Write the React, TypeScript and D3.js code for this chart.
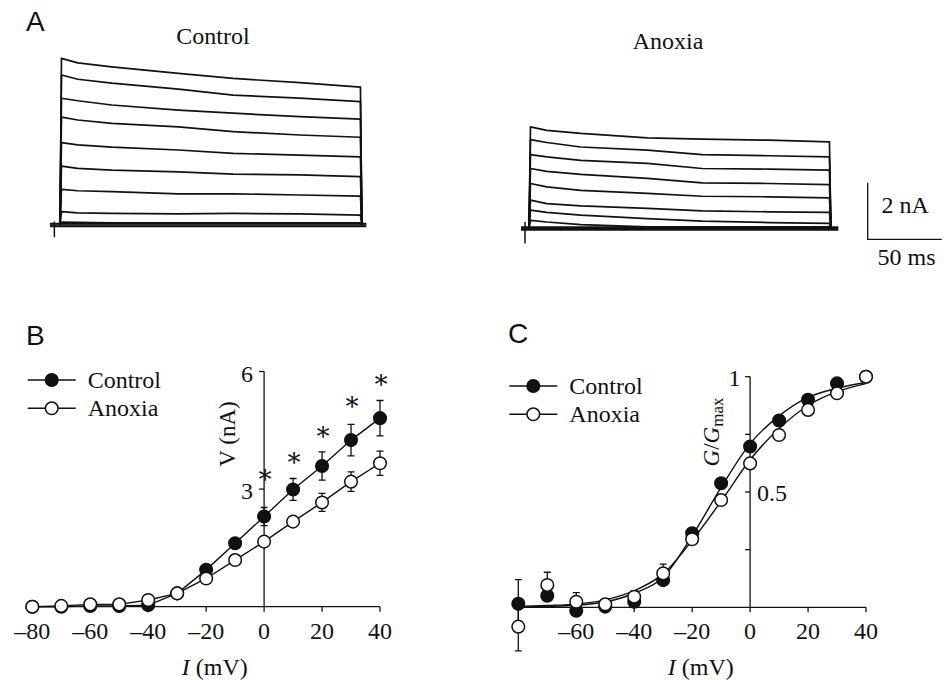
import React, { useEffect, useRef } from 'react';
import * as d3 from 'd3';

// ---- Panel A: current traces, nA, sampled at these times (ms after step onset)
const traceTimes = [1, 12, 35, 80, 117, 162, 203];
const stepEnd = 204;
const controlTraces = [
    [5.89, 5.73, 5.59, 5.36, 5.18, 5.03, 4.87],
    [5.30, 5.15, 5.01, 4.80, 4.59, 4.48, 4.36],
    [4.48, 4.39, 4.24, 4.06, 3.95, 3.83, 3.74],
    [3.81, 3.71, 3.59, 3.47, 3.30, 3.18, 3.10],
    [2.91, 2.83, 2.75, 2.65, 2.53, 2.47, 2.41],
    [2.08, 2.00, 1.94, 1.88, 1.80, 1.77, 1.71],
    [1.26, 1.21, 1.18, 1.10, 1.10, 1.06, 1.02],
    [0.47, 0.43, 0.41, 0.39, 0.41, 0.39, 0.35],
    [0.10, 0.09, 0.08, 0.08, 0.08, 0.08, 0.08],
];
const anoxiaTraces = [
    [3.59, 3.47, 3.36, 3.20, 3.16, 3.12, 3.06],
    [3.14, 3.04, 2.88, 2.77, 2.61, 2.57, 2.53],
    [2.61, 2.53, 2.41, 2.30, 2.12, 2.10, 2.06],
    [2.12, 2.02, 1.91, 1.77, 1.61, 1.59, 1.55],
    [1.59, 1.47, 1.35, 1.24, 1.14, 1.12, 1.08],
    [1.00, 0.88, 0.80, 0.71, 0.62, 0.59, 0.57],
    [0.65, 0.57, 0.47, 0.35, 0.26, 0.21, 0.18],
    [0.29, 0.23, 0.14, 0.06, 0.06, 0.06, 0.06],
];
const baselineLevels = [0.05, 0, -0.05];
// capacitive artifact just before the step: [time, top, bottom]
const controlArtifact = [-3.8, 0.12, -0.43];
const anoxiaArtifact = [-2.7, 0.23, -0.53];

// ---- Panel B: I-V
const voltages = [-80, -70, -60, -50, -40, -30, -20, -10, 0, 10, 20, 30, 40];
const ivControl = [0, 0, 0.02, 0.02, 0.04, 0.34, 0.94, 1.62, 2.30, 2.99, 3.59, 4.25, 4.81];
const ivControlErr = [0, 0, 0, 0, 0, 0, 0.05, 0.1, 0.23, 0.28, 0.36, 0.40, 0.45];
const ivAnoxia = [0, 0.02, 0.06, 0.06, 0.17, 0.34, 0.72, 1.19, 1.66, 2.17, 2.66, 3.19, 3.66];
const ivAnoxiaErr = [0, 0, 0, 0, 0, 0, 0.05, 0.08, 0.1, 0.1, 0.23, 0.25, 0.31];
const starVoltages = [0, 10, 20, 30, 40];
const starLevels = [3.48, 3.93, 4.59, 5.34, 5.90];

// ---- Panel C: G/Gmax
const gControl = [0.015, 0.05, -0.015, 0.003, 0.024, 0.118, 0.321, 0.538, 0.697, 0.81, 0.90, 0.971, 1.0];
const gControlErr = [0.105, 0, 0, 0, 0, 0, 0, 0, 0, 0, 0, 0, 0];
const gAnoxia = [-0.084, 0.097, 0.024, 0.013, 0.046, 0.147, 0.295, 0.465, 0.624, 0.747, 0.856, 0.928, 1.0];
const gAnoxiaErr = [0.105, 0.055, 0.04, 0, 0.025, 0.04, 0, 0, 0, 0, 0, 0, 0];
const fitControl = [0.002, 0.004, 0.009, 0.023, 0.061, 0.13, 0.31, 0.52, 0.71, 0.83, 0.91, 0.95, 0.975];
const fitAnoxia = [0.004, 0.008, 0.014, 0.032, 0.072, 0.145, 0.29, 0.46, 0.64, 0.775, 0.875, 0.935, 0.97];

const xTicks = [-80, -60, -40, -20, 0, 20, 40];

const SERIF = 'Liberation Serif, DejaVu Serif, serif';
const SANS = 'Liberation Sans, DejaVu Sans, sans-serif';
const INK = '#111';

export default function App() {
    const ref = useRef<SVGSVGElement | null>(null);

    useEffect(() => {
        if (!ref.current) return;
        const svg = d3.select(ref.current);
        svg.selectAll('*').remove();

        const text = (x: number, y: number, s: string, size = 24, anchor = 'start', family = SERIF) =>
            svg.append('text').attr('x', x).attr('y', y).attr('text-anchor', anchor)
                .attr('font-family', family).attr('font-size', size).attr('fill', INK).text(s);

        // panel letters
        text(26, 31, 'A', 28, 'start', SANS);
        text(26, 345, 'B', 28, 'start', SANS);
        text(508, 343, 'C', 28, 'start', SANS);

        // ---------- A: traces
        const drawTraces = (traces: number[][], artifact: number[], x0: number, base: number,
                            tStart: number, tStop: number) => {
            const tx = d3.scaleLinear().domain([0, stepEnd]).range([x0, x0 + stepEnd * 1.48]);
            const iy = d3.scaleLinear().domain([0, 6]).range([base, base - 6 * 28.3]);
            const line = d3.line<number[]>().x(d => tx(d[0])).y(d => iy(d[1]));
            const g = svg.append('g').attr('fill', 'none').attr('stroke', INK).attr('stroke-linejoin', 'round');
            baselineLevels.forEach(b => {
                g.append('path').attr('stroke-width', 1.6)
                    .attr('d', line([[tStart, b], [tStop, b]]));
            });
            g.append('path').attr('stroke-width', 1.5)
                .attr('d', line([[artifact[0], artifact[1]], [artifact[0], artifact[2]]]));
            traces.forEach(tr => {
                const pts = [[0, 0], ...traceTimes.map((t, i) => [t, tr[i]]), [stepEnd, 0]];
                g.append('path').attr('stroke-width', 1.7).attr('d', line(pts));
            });
            return { tx, iy };
        };

        drawTraces(controlTraces, controlArtifact, 60, 225, -6.8, 207);
        const an = drawTraces(anoxiaTraces, anoxiaArtifact, 529, 228.5, -5.4, 209);

        text(213, 44, 'Control', 24, 'middle');
        text(668, 49, 'Anoxia', 24, 'middle');

        // scale bar: 2 nA, 50 ms
        const sbX = 867.7, sbY = 239.3;
        const sbW = an.tx(50) - an.tx(0);
        const sbH = an.iy(0) - an.iy(2);
        svg.append('path').attr('fill', 'none').attr('stroke', INK).attr('stroke-width', 1.3)
            .attr('d', `M${sbX},${sbY - sbH}V${sbY}H${sbX + sbW}`);
        text(881.5, 212.5, '2 nA', 24);
        text(906.5, 265, '50 ms', 24, 'middle');

        // ---------- shared helpers for B and C
        const axesX = (x: d3.ScaleLinear<number, number>, y0: number, labels: number[]) => {
            svg.append('line').attr('x1', x(-80)).attr('x2', x(40)).attr('y1', y0).attr('y2', y0)
                .attr('stroke', INK).attr('stroke-width', 1.3);
            xTicks.forEach(t => {
                svg.append('line').attr('x1', x(t)).attr('x2', x(t)).attr('y1', y0).attr('y2', y0 + 5)
                    .attr('stroke', INK).attr('stroke-width', 1.3);
            });
            labels.forEach(t => {
                text(x(t), y0 + 32, t < 0 ? '\u2013' + Math.abs(t) : String(t), 24, 'middle');
            });
        };

        const series = (x: d3.ScaleLinear<number, number>, y: d3.ScaleLinear<number, number>,
                        vals: number[], errs: number[], filled: boolean, connect: boolean) => {
            const g = svg.append('g');
            if (connect) {
                g.append('path').datum(vals).attr('fill', 'none').attr('stroke', INK).attr('stroke-width', 1.4)
                    .attr('d', d3.line<number>().x((_, i) => x(voltages[i])).y(d => y(d)));
            }
            vals.forEach((v, i) => {
                const e = errs[i];
                if (e > 0) {
                    const cx = x(voltages[i]);
                    g.append('path').attr('fill', 'none').attr('stroke', INK).attr('stroke-width', 1.3)
                        .attr('d', `M${cx},${y(v - e)}V${y(v + e)}M${cx - 3.5},${y(v + e)}H${cx + 3.5}M${cx - 3.5},${y(v - e)}H${cx + 3.5}`);
                }
            });
            g.selectAll('circle').data(vals).enter().append('circle')
                .attr('cx', (_, i) => x(voltages[i])).attr('cy', d => y(d)).attr('r', 6.3)
                .attr('fill', filled ? INK : '#fff').attr('stroke', INK).attr('stroke-width', 1.5);
        };

        const legend = (x0: number, y0: number) => {
            [['Control', true], ['Anoxia', false]].forEach(([lab, filled], i) => {
                const yy = y0 + i * 28.3;
                svg.append('line').attr('x1', x0).attr('x2', x0 + 48).attr('y1', yy).attr('y2', yy)
                    .attr('stroke', INK).attr('stroke-width', 1.4);
                svg.append('circle').attr('cx', x0 + 24).attr('cy', yy).attr('r', 6.3)
                    .attr('fill', filled ? INK : '#fff').attr('stroke', INK).attr('stroke-width', 1.5);
                text(x0 + 60, yy + 8, lab as string, 24);
            });
        };

        // ---------- B: I-V
        const xB = d3.scaleLinear().domain([-80, 40]).range([32.3, 380]);
        const yB = d3.scaleLinear().domain([0, 6]).range([606.7, 371.5]);
        axesX(xB, yB(0), xTicks);
        svg.append('line').attr('x1', xB(0)).attr('x2', xB(0)).attr('y1', yB(0)).attr('y2', yB(6))
            .attr('stroke', INK).attr('stroke-width', 1.3);
        [3, 6].forEach(t => {
            svg.append('line').attr('x1', xB(0) - 5).attr('x2', xB(0)).attr('y1', yB(t)).attr('y2', yB(t))
                .attr('stroke', INK).attr('stroke-width', 1.3);
            text(xB(0) - 11, yB(t) + 10, String(t), 24, 'end');
        });
        series(xB, yB, ivControl, ivControlErr, true, true);
        series(xB, yB, ivAnoxia, ivAnoxiaErr, false, true);
        starVoltages.forEach((v, i) => {
            text(xB(v) + 1, yB(starLevels[i]) + 13, '\u2217', 26, 'middle');
        });
        svg.append('text').attr('transform', `translate(235,434) rotate(-90)`).attr('text-anchor', 'middle')
            .attr('font-family', SERIF).attr('font-size', 23).attr('fill', INK).text('V (nA)');
        const xlabB = svg.append('text').attr('x', xB(-17)).attr('y', 675).attr('text-anchor', 'middle')
            .attr('font-family', SERIF).attr('font-size', 24).attr('fill', INK);
        xlabB.append('tspan').attr('font-style', 'italic').text('I');
        xlabB.append('tspan').text(' (mV)');
        legend(27.7, 380);

        // ---------- C: G/Gmax
        const xC = d3.scaleLinear().domain([-80, 40]).range([518.3, 866]);
        const yC = d3.scaleLinear().domain([0, 1]).range([607.3, 376.7]);
        axesX(xC, yC(0), xTicks.slice(1));
        svg.append('line').attr('x1', xC(0)).attr('x2', xC(0)).attr('y1', yC(0)).attr('y2', yC(1))
            .attr('stroke', INK).attr('stroke-width', 1.3);
        [0.25, 0.5, 0.75, 1].forEach(t => {
            svg.append('line').attr('x1', xC(0) - 5).attr('x2', xC(0)).attr('y1', yC(t)).attr('y2', yC(t))
                .attr('stroke', INK).attr('stroke-width', 1.3);
        });
        text(xC(0) - 9.5, yC(1) + 9, '1', 24, 'end');
        text(xC(0) + 7, yC(0.5) + 9, '0.5', 24, 'start');

        const fit = d3.line<number>().x((_, i) => xC(voltages[i])).y(d => yC(d)).curve(d3.curveMonotoneX);
        [fitControl, fitAnoxia].forEach(f => {
            svg.append('path').datum(f).attr('fill', 'none').attr('stroke', INK).attr('stroke-width', 1.4).attr('d', fit);
        });
        series(xC, yC, gControl, gControlErr, true, false);
        series(xC, yC, gAnoxia, gAnoxiaErr, false, false);

        const ylabC = svg.append('text').attr('transform', `translate(719,432) rotate(-90)`).attr('text-anchor', 'middle')
            .attr('font-family', SERIF).attr('font-size', 23).attr('fill', INK);
        ylabC.append('tspan').attr('font-style', 'italic').text('G');
        ylabC.append('tspan').text('/');
        ylabC.append('tspan').attr('font-style', 'italic').text('G');
        ylabC.append('tspan').attr('dy', 4).attr('font-size', 17).text('max');
        const xlabC = svg.append('text').attr('x', xC(-17)).attr('y', 675).attr('text-anchor', 'middle')
            .attr('font-family', SERIF).attr('font-size', 24).attr('fill', INK);
        xlabC.append('tspan').attr('font-style', 'italic').text('I');
        xlabC.append('tspan').text(' (mV)');
        legend(509.3, 386);
    }, []);

    return (
        <svg ref={ref} width={948} height={680}
             style={{ position: 'absolute', left: 0, top: 0, background: '#fff' }} />
    );
}
